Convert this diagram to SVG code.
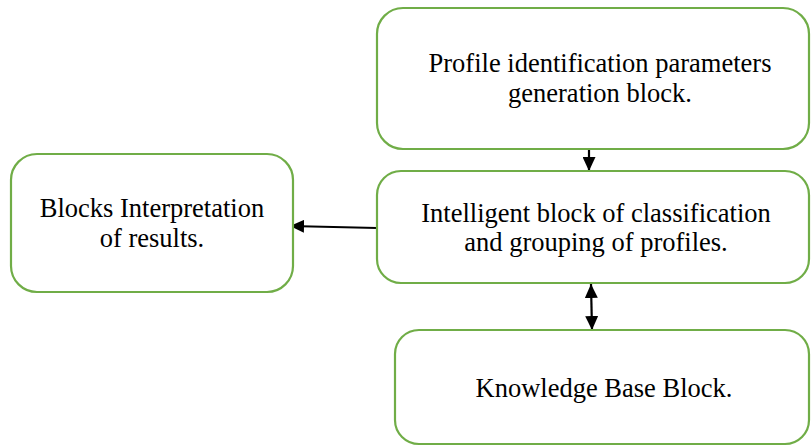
<svg xmlns="http://www.w3.org/2000/svg" width="811" height="446" viewBox="0 0 811 446">
<defs>
<style>
.box{fill:#fff;stroke:#70AD47;stroke-width:2.2}
.t{font-family:'Liberation Serif','Times New Roman','DejaVu Serif',serif;font-size:26.5px;fill:#000;text-anchor:middle}
.c{stroke:#000;stroke-width:2.2;fill:none}
</style>
<marker id="ah" viewBox="0 0 14 13" refX="14" refY="6.5" markerWidth="14" markerHeight="13" orient="auto-start-reverse" markerUnits="userSpaceOnUse">
<path d="M0,0 L14,6.5 L0,13 z" fill="#000"/>
</marker>
</defs>
<rect width="811" height="446" fill="#fff"/>
<g id="connectors">
<line class="c" x1="589" y1="150" x2="589" y2="171" marker-end="url(#ah)"/>
<line class="c" x1="377" y1="228" x2="290" y2="226" marker-end="url(#ah)"/>
<line class="c" x1="591" y1="284" x2="592" y2="330" marker-start="url(#ah)" marker-end="url(#ah)"/>
</g>
<g id="node-profile">
<rect class="box" x="377" y="8" width="432" height="141" rx="26"/>
<text class="t" x="600" y="72">Profile identification parameters</text>
<text class="t" x="600" y="102">generation block.</text>
</g>
<g id="node-intelligent">
<rect class="box" x="377" y="171" width="432" height="112" rx="24"/>
<text class="t" x="596" y="222">Intelligent block of classification</text>
<text class="t" x="596" y="251">and grouping of profiles.</text>
</g>
<g id="node-interpretation">
<rect class="box" x="11" y="154" width="282" height="138" rx="26"/>
<text class="t" x="152" y="217">Blocks Interpretation</text>
<text class="t" x="152" y="247">of results.</text>
</g>
<g id="node-knowledge">
<rect class="box" x="395" y="330" width="414" height="114" rx="24"/>
<text class="t" x="604" y="397">Knowledge Base Block.</text>
</g>
</svg>
